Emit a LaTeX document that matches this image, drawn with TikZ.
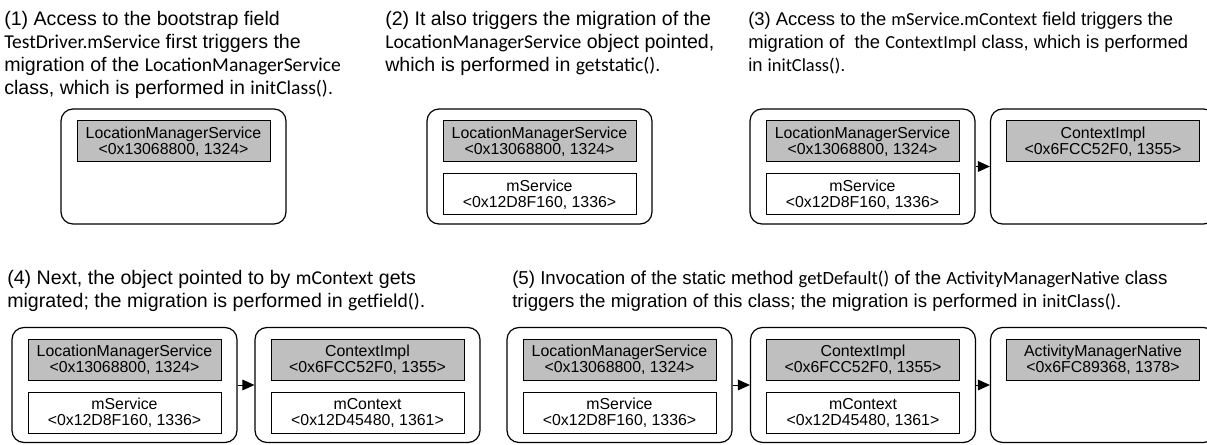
\documentclass[tikz,border=0pt]{standalone}
\usepackage{fontspec}
\setmainfont{Liberation Sans}
\newfontfamily\codefont{Carlito}
\usetikzlibrary{positioning,arrows.meta}
\definecolor{ink}{HTML}{000000}
\definecolor{clsbg}{HTML}{BFBFBF}
\newcommand{\code}[1]{{\codefont #1}}
\tikzset{
  heap/.style={draw=ink, line width=0.9pt, rounded corners=9pt, minimum width=168.75pt, minimum height=86.25pt, inner sep=0pt},
  cls/.style={draw=ink, fill=clsbg, line width=0.75pt, minimum width=144.75pt, minimum height=30.75pt, inner sep=0pt, align=center, font=\fontsize{11.9}{12}\selectfont},
  fld/.style={cls, fill=white},
  link/.style={draw=ink, line width=0.75pt, -{Triangle[length=9pt,width=8pt]}},
  captext/.style={anchor=base west, inner sep=0pt, align=left, font=\fontsize{14.7}{17.25}\selectfont},
  narrow/.style={font=\fontsize{13.8}{17.25}\selectfont},
}

\begin{document}
\begin{tikzpicture}[x=0.75pt,y=-0.75pt]
  \useasboundingbox (0,0) rectangle (1207,445);
  % (1) bootstrap field (anchored at last line)
  \node[captext] (cap1) at (4,95) {(1) Access to the bootstrap field\\
    \code{TestDriver.mService} first triggers the\\
    migration of the \code{LocationManagerService}\\
    class, which is performed in \code{initClass()}.};
  \node[heap] (p1a) at (173.5,166.5) {};
  \node[cls, below=9pt of p1a.north] (p1aCls) {LocationManagerService\\<0x13068800, 1324>};
  % (2) object pointed
  \node[captext] (cap2) at (385,72) {(2) It also triggers the migration of the\\
    \code{LocationManagerService} object pointed,\\
    which is performed in \code{getstatic()}.};
  \node[heap] (p2a) at (539.5,166.5) {};
  \node[cls, below=9pt of p2a.north] (p2aCls) {LocationManagerService\\<0x13068800, 1324>};
  \node[fld, below=8.25pt of p2aCls] (p2aFld) {mService\\<0x12D8F160, 1336>};
  % (3) mService.mContext
  \node[captext, narrow] (cap3) at (748,72) {(3) Access to the \code{mService.mContext} field triggers the\\
    migration of \ the \code{ContextImpl} class, which is performed\\
    in \code{initClass()}.};
  \node[heap] (p3a) at (862.5,166.5) {};
  \node[cls, below=9pt of p3a.north] (p3aCls) {LocationManagerService\\<0x13068800, 1324>};
  \node[fld, below=8.25pt of p3aCls] (p3aFld) {mService\\<0x12D8F160, 1336>};
  \node[heap] (p3b) at (1103,166.5) {};
  \node[cls, below=9pt of p3b.north] (p3bCls) {ContextImpl\\<0x6FCC52F0, 1355>};
  \draw[link] (p3a) -- (p3b);
  % (4) mContext object
  \node[captext] (cap4) at (7,308) {(4) Next, the object pointed to by \code{mContext} gets\\
    migrated; the migration is performed in \code{getfield()}.};
  \node[heap] (p4a) at (124.5,385) {};
  \node[cls, below=9pt of p4a.north] (p4aCls) {LocationManagerService\\<0x13068800, 1324>};
  \node[fld, below=8.25pt of p4aCls] (p4aFld) {mService\\<0x12D8F160, 1336>};
  \node[heap] (p4b) at (367.5,385) {};
  \node[cls, below=9pt of p4b.north] (p4bCls) {ContextImpl\\<0x6FCC52F0, 1355>};
  \node[fld, below=8.25pt of p4bCls] (p4bFld) {mContext\\<0x12D45480, 1361>};
  \draw[link] (p4a) -- (p4b);
  % (5) getDefault(), set a bit narrower
  \node[captext, font=\fontsize{14}{17.25}\selectfont] (cap5) at (512,308) {(5) Invocation of the static method \code{getDefault()} of the \code{ActivityManagerNative} class\\
    triggers the migration of this class; the migration is performed in \code{initClass()}.};
  \node[heap] (p5a) at (619.5,385) {};
  \node[cls, below=9pt of p5a.north] (p5aCls) {LocationManagerService\\<0x13068800, 1324>};
  \node[fld, below=8.25pt of p5aCls] (p5aFld) {mService\\<0x12D8F160, 1336>};
  \node[heap] (p5b) at (863,385) {};
  \node[cls, below=9pt of p5b.north] (p5bCls) {ContextImpl\\<0x6FCC52F0, 1355>};
  \node[fld, below=8.25pt of p5bCls] (p5bFld) {mContext\\<0x12D45480, 1361>};
  \node[heap] (p5c) at (1103,385) {};
  \node[cls, below=9pt of p5c.north] (p5cCls) {ActivityManagerNative\\<0x6FC89368, 1378>};
  \draw[link] (p5a) -- (p5b);
  \draw[link] (p5b) -- (p5c);
\end{tikzpicture}
\end{document}
